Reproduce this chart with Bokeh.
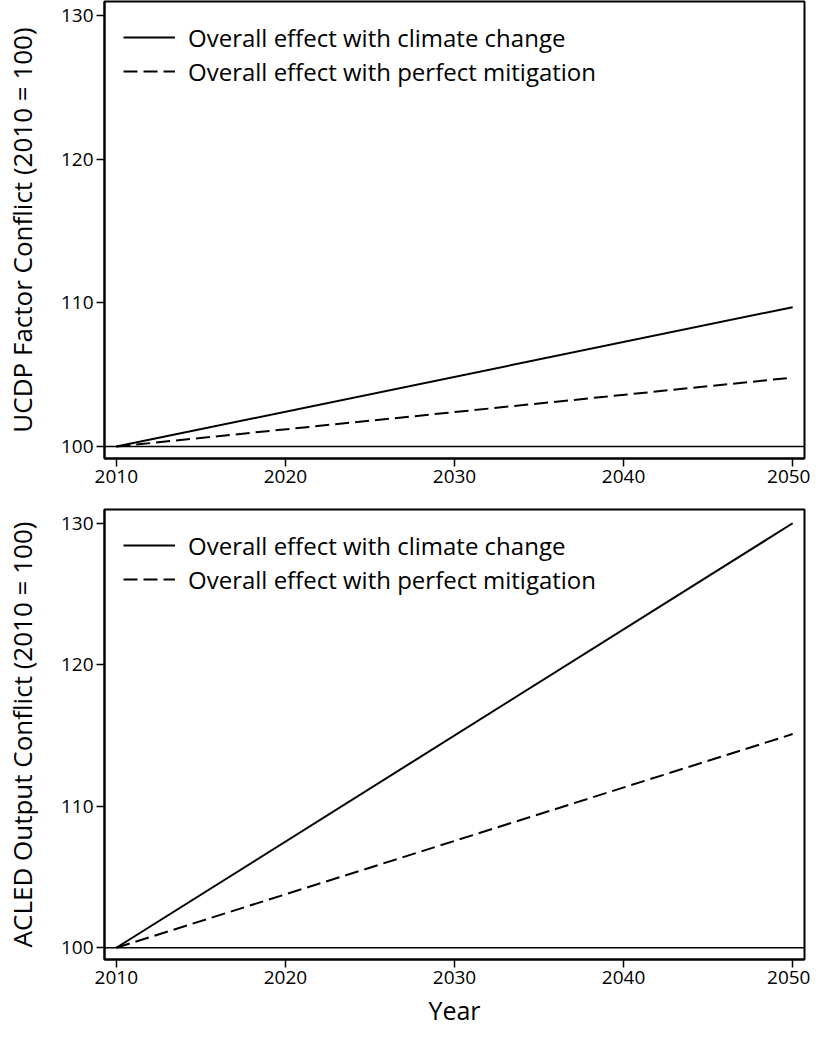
from bokeh.plotting import figure
from bokeh.models import Span, Legend, LegendItem, FixedTicker
from bokeh.layouts import column
from bokeh.embed import file_html
from bokeh.resources import INLINE

years = [2010, 2050]
ucdp_climate = [100.0, 109.7]
ucdp_mitigation = [100.0, 104.8]
acled_climate = [100.0, 130.0]
acled_mitigation = [100.0, 115.1]
x_ticks = [2010, 2020, 2030, 2040, 2050]
y_ticks = [100, 110, 120, 130]
legend_labels = ["Overall effect with climate change", "Overall effect with perfect mitigation"]
y_labels = ["UCDP Factor Conflict (2010 = 100)", "ACLED Output Conflict (2010 = 100)"]
x_label = "Year"

FONT = "Open Sans"


def make_panel(clim, miti, ylab, height, border_top, border_bottom, show_xlabel):
    p = figure(width=810, height=height, x_range=(2009.3, 2050.7), y_range=(99.17, 130.97),
               output_backend="svg", toolbar_location=None,
               min_border_left=97, min_border_right=6,
               min_border_top=border_top, min_border_bottom=border_bottom)
    p.xgrid.visible = False
    p.ygrid.visible = False
    p.outline_line_color = "black"
    p.outline_line_width = 2
    p.outline_line_alpha = 1
    p.background_fill_color = "white"
    p.border_fill_color = "white"

    for ax in (p.xaxis[0], p.yaxis[0]):
        ax.axis_line_color = "black"
        ax.axis_line_width = 2
        ax.major_tick_line_color = "black"
        ax.major_tick_line_width = 1.5
        ax.major_tick_in = 0
        ax.major_tick_out = 8
        ax.minor_tick_line_color = None
        ax.major_label_text_font = FONT
        ax.major_label_text_font_size = "19px"
        ax.major_label_text_color = "black"
        ax.axis_label_text_font = FONT
        ax.axis_label_text_font_style = "normal"
        ax.axis_label_text_color = "black"

    p.xaxis.ticker = FixedTicker(ticks=x_ticks)
    p.yaxis.ticker = FixedTicker(ticks=y_ticks)
    p.xaxis.major_label_standoff = 3
    p.yaxis.major_label_standoff = 3
    p.yaxis.axis_label = ylab
    p.yaxis.axis_label_text_font_size = "26px"
    p.yaxis.axis_label_standoff = 18
    if show_xlabel:
        p.xaxis.axis_label = x_label
        p.xaxis.axis_label_text_font_size = "25px"
        p.xaxis.axis_label_standoff = 6

    base = Span(location=100, dimension="width", line_color="black", line_width=1.5)
    p.add_layout(base)

    r1 = p.line(years, clim, line_color="black", line_width=2)
    r2 = p.line(years, miti, line_color="black", line_width=2, line_dash="14 6")

    leg = Legend(items=[LegendItem(label=legend_labels[0], renderers=[r1]),
                        LegendItem(label=legend_labels[1], renderers=[r2])],
                 location="top_left")
    leg.border_line_color = None
    leg.background_fill_alpha = 0
    leg.margin = 19
    leg.padding = 0
    leg.spacing = 0
    leg.glyph_width = 52
    leg.glyph_height = 34
    leg.label_height = 34
    leg.label_standoff = 13
    leg.label_text_font = FONT
    leg.label_text_font_size = "24px"
    leg.label_text_color = "black"
    p.add_layout(leg)
    return p


p1 = make_panel(ucdp_climate, ucdp_mitigation, y_labels[0], 498, 1, 40, False)
p2 = make_panel(acled_climate, acled_mitigation, y_labels[1], 531, 11, 65, True)

layout = column(p1, p2, spacing=0)
open("out.html", "w").write(file_html(layout, INLINE))
